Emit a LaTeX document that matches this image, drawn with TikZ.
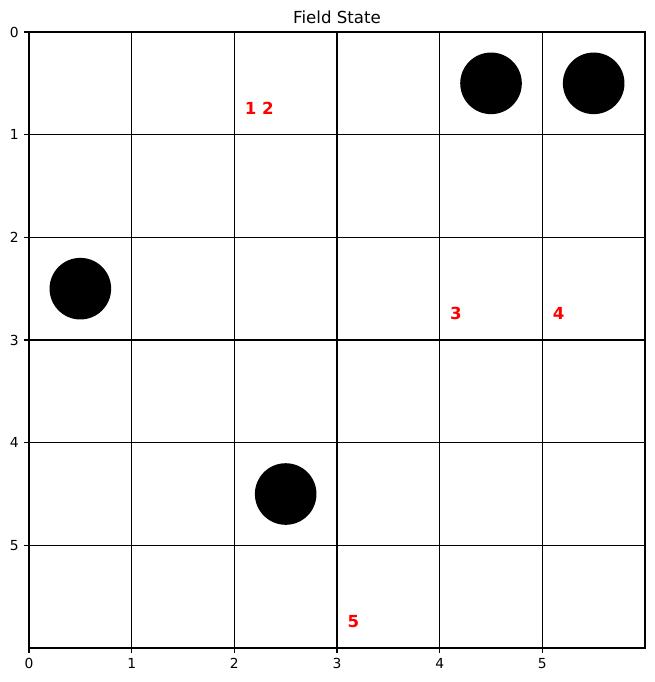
\documentclass[tikz,border=0pt]{standalone}
\usepackage{fontspec}
\setmainfont{DejaVu Sans}
\tikzset{
  marker/.style={anchor=base west,inner sep=0pt,red,font=\fontsize{12}{14}\selectfont\bfseries},
}
\begin{document}
\begin{tikzpicture}[x=2.607cm,y=-2.607cm,font=\fontsize{10}{12}\selectfont]
\useasboundingbox (-0.2825,-0.3117) rectangle (6.0877,6.331);
\foreach \i in {1,...,5} {
  \draw[line width=1pt] (\i,0) -- (\i,6);
  \draw[line width=1pt] (0,\i) -- (6,\i);
}
\draw[line width=0.8pt] (0,0) rectangle (6,6);
\foreach \i in {0,...,5} {
  \draw[line width=0.8pt] (\i,6) -- ++(0,-3.5pt) node[below=2.5pt,inner sep=1pt] (xt\i) {\i};
  \draw[line width=0.8pt] (0,\i) -- ++(-3.5pt,0) node[left=2.5pt,inner sep=1pt] (yt\i) {\i};
}
\node[anchor=base,font=\fontsize{12}{14}\selectfont] (title) at (3,-0.08) {Field State};
\fill (4.5,0.5) circle (0.3);
\fill (5.5,0.5) circle (0.3);
\fill (0.5,2.5) circle (0.3);
\fill (2.5,4.5) circle (0.3);
\node[marker] (lab12) at (2.1,0.8) {1 2};
\node[marker] (lab3) at (4.1,2.8) {3};
\node[marker] (lab4) at (5.1,2.8) {4};
\node[marker] (lab5) at (3.1,5.8) {5};
\end{tikzpicture}
\end{document}
